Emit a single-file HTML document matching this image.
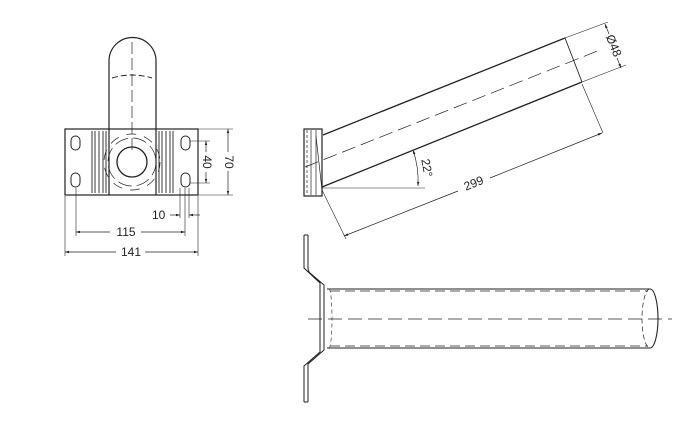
<!DOCTYPE html>
<html><head><style>html,body{margin:0;padding:0;background:#fff}svg{display:block}</style></head>
<body>
<svg width="700" height="430" viewBox="0 0 700 430" xmlns="http://www.w3.org/2000/svg" font-family="Liberation Sans, sans-serif" fill="none" stroke="#222" stroke-width="1">
<defs>
<marker id="a" viewBox="0 0 10 10" refX="10" refY="5" markerWidth="6" markerHeight="6" orient="auto-start-reverse"><path d="M0,2 L10,5 L0,8 z" fill="#222" stroke="none"/></marker>
</defs>
<!-- FRONT VIEW -->
<path d="M109,195 V61 A23.5,23.5 0 0 1 156,61 V195" stroke-width="1.2"/>
<path d="M112,78 Q132,72 152,78" stroke-dasharray="6,3"/>
<line x1="132" y1="42" x2="132" y2="150" stroke-dasharray="12,4" stroke-width="0.7"/>
<rect x="65" y="129" width="133" height="66" stroke-width="1.2"/>
<g stroke-width="0.9">
<line x1="92" y1="131" x2="92" y2="193"/><line x1="95" y1="131" x2="95" y2="193"/><line x1="99" y1="131" x2="99" y2="193"/><line x1="103" y1="131" x2="103" y2="193"/><line x1="106" y1="131" x2="106" y2="193"/>
<line x1="159" y1="131" x2="159" y2="193"/><line x1="162" y1="131" x2="162" y2="193"/><line x1="166" y1="131" x2="166" y2="193"/><line x1="170" y1="131" x2="170" y2="193"/><line x1="173" y1="131" x2="173" y2="193"/>
</g>
<circle cx="132" cy="162" r="15" stroke-width="1.3"/>
<circle cx="132" cy="162" r="24" stroke-dasharray="14,5" stroke-width="0.7"/>
<circle cx="132" cy="162" r="28" stroke-dasharray="10,8" stroke-width="0.7"/>
<rect x="71" y="136" width="9" height="14" rx="4.5"/><rect x="71" y="173" width="9" height="14" rx="4.5"/>
<rect x="181" y="136" width="9" height="14" rx="4.5"/><rect x="181" y="173" width="9" height="14" rx="4.5"/>
<g stroke-width="0.6">
<line x1="198" y1="129" x2="233" y2="129"/><line x1="198" y1="195" x2="233" y2="195"/>
<line x1="190" y1="141" x2="210" y2="141"/><line x1="190" y1="183" x2="210" y2="183"/>
<line x1="65" y1="196" x2="65" y2="256"/><line x1="198" y1="196" x2="198" y2="256"/>
<line x1="76" y1="188" x2="76" y2="236"/><line x1="185" y1="188" x2="185" y2="236"/>
<line x1="180" y1="188" x2="180" y2="218"/><line x1="189" y1="188" x2="189" y2="218"/>
</g>
<g stroke-width="0.7">
<line x1="228" y1="129" x2="228" y2="152" marker-start="url(#a)"/><line x1="228" y1="171" x2="228" y2="195" marker-end="url(#a)"/>
<line x1="206" y1="141" x2="206" y2="152" marker-start="url(#a)"/><line x1="206" y1="172" x2="206" y2="183" marker-end="url(#a)"/>
<line x1="170" y1="215" x2="180" y2="215" marker-end="url(#a)"/><line x1="200" y1="215" x2="189" y2="215" marker-end="url(#a)"/>
<line x1="76" y1="232" x2="110" y2="232" marker-start="url(#a)"/><line x1="141" y1="232" x2="185" y2="232" marker-end="url(#a)"/>
<line x1="65" y1="252" x2="116" y2="252" marker-start="url(#a)"/><line x1="145" y1="252" x2="198" y2="252" marker-end="url(#a)"/>
</g>
<g fill="#222" stroke="none" font-size="12">
<text x="228" y="162" transform="rotate(90 228 162)" text-anchor="middle" dominant-baseline="middle">70</text>
<text x="206" y="162" transform="rotate(90 206 162)" text-anchor="middle" dominant-baseline="middle">40</text>
<text x="152" y="219" font-size="12">10</text>
<text x="126" y="236" text-anchor="middle">115</text>
<text x="131" y="256" text-anchor="middle">141</text>
</g>
<!-- SIDE VIEW -->
<rect x="304" y="129" width="18" height="67" stroke-width="1.2"/>
<line x1="307" y1="130" x2="307" y2="195" stroke-dasharray="3,2" stroke-width="0.7"/>
<line x1="311" y1="130" x2="311" y2="195" stroke-width="0.7"/>
<line x1="316" y1="130" x2="316" y2="195" stroke-width="0.7"/>
<line x1="316" y1="136" x2="322" y2="190" stroke-width="0.7"/>
<line x1="323" y1="135" x2="565" y2="38" stroke-width="1.3"/>
<line x1="322" y1="187" x2="582" y2="82" stroke-width="1.3"/>
<line x1="565" y1="38" x2="582" y2="82" stroke-width="0.9"/>
<line x1="305" y1="167" x2="600" y2="50" stroke-dasharray="14,6" stroke-width="0.7"/>
<g stroke-width="0.6">
<line x1="322" y1="188" x2="425" y2="188"/>
<line x1="322" y1="190" x2="346" y2="239"/>
<line x1="582" y1="84" x2="603" y2="133"/>
<line x1="565" y1="38" x2="608" y2="22"/>
<line x1="582" y1="82" x2="626" y2="65"/>
</g>
<g stroke-width="0.7">
<path d="M413,150 A95,95 0 0 1 418,186" marker-start="url(#a)" marker-end="url(#a)"/>
<line x1="344" y1="236" x2="458" y2="191" marker-start="url(#a)"/>
<line x1="490" y1="178" x2="602" y2="133" marker-end="url(#a)"/>
<line x1="605" y1="24" x2="609" y2="34" marker-start="url(#a)"/>
<line x1="617" y1="58" x2="621" y2="68" marker-end="url(#a)"/>
</g>
<g fill="#222" stroke="none" font-size="12">
<text x="426" y="168" transform="rotate(80 426 168)" text-anchor="middle" dominant-baseline="middle">22°</text>
<text x="474" y="184" transform="rotate(-22 474 184)" text-anchor="middle" dominant-baseline="middle">299</text>
<text x="613" y="46" transform="rotate(68 613 46)" text-anchor="middle" dominant-baseline="middle">Ø48</text>
</g>
<!-- BOTTOM VIEW -->
<path d="M304,235 V268 L320,283 V352 L304,366 V402 M308,235 V268 Q308,271 310,273 L324,285 V350 L308,364 V402" stroke-width="1"/>
<line x1="304" y1="235" x2="308" y2="235"/><line x1="304" y1="402" x2="308" y2="402"/>
<line x1="327" y1="289" x2="650" y2="289" stroke-width="1.1"/>
<line x1="327" y1="348" x2="650" y2="348" stroke-width="1.1"/>
<line x1="330" y1="291" x2="648" y2="291" stroke-dasharray="10,5" stroke-width="0.8"/>
<line x1="330" y1="346" x2="648" y2="346" stroke-dasharray="10,5" stroke-width="0.8"/>
<path d="M650,289 A8,29.5 0 0 1 650,348" stroke-width="1.1"/>
<path d="M650,289 A8,29.5 0 0 0 650,348" stroke-dasharray="5,3" stroke-width="0.7"/>
<path d="M329,289 A3,29.5 0 0 1 329,348" stroke-dasharray="4,3" stroke-width="0.6"/>
<line x1="308" y1="319" x2="672" y2="319" stroke-dasharray="14,6" stroke-width="0.7"/>
</svg>
</body></html>
